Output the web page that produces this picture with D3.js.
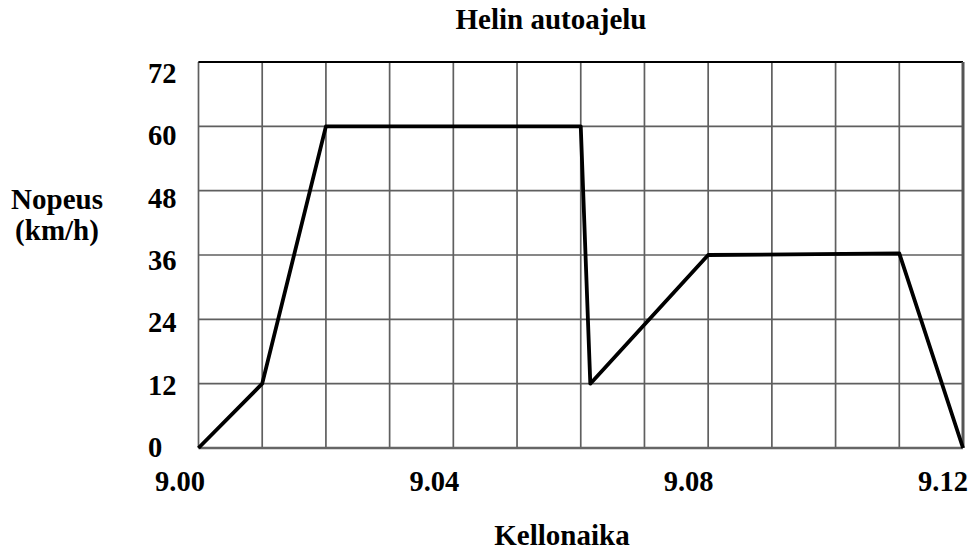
<!DOCTYPE html>
<html>
<head>
<meta charset="utf-8">
<script src="https://cdn.jsdelivr.net/npm/d3@7"></script>
<style>
  body { margin: 0; background: #fff; }
  text { font-family: "Liberation Serif", "Times New Roman", serif; font-weight: bold; fill: #000; }
</style>
</head>
<body>
<svg id="chart" width="973" height="551"></svg>
<script>
// minutes after 9.00 and speed (km/h)
const minutes = [0, 1, 2, 6, 6.15, 8, 11, 12]
const speed = [0, 12, 60, 60, 12, 36, 36.3, 0]

const yTicks = [0, 12, 24, 36, 48, 60, 72]
const xTicks = [0, 4, 8, 12]
const xTickLabels = ['9.00', '9.04', '9.08', '9.12']

const svg = d3.select('#chart')

const x = d3.scaleLinear().domain([0, 12]).range([198.5, 963])
const y = d3.scaleLinear().domain([0, 72]).range([448, 62])

// labels sit a bit off the grid in the original
const yLab = d3.scaleLinear().domain([0, 72]).range([457, 83])
const xLab = d3.scaleLinear().domain([0, 12]).range([180, 943])

const grid = svg.append('g')

grid.selectAll('.vgrid')
  .data(d3.range(0, 13))
  .enter().append('line')
  .attr('x1', d => x(d)).attr('x2', d => x(d))
  .attr('y1', y(0)).attr('y2', y(72))
  .attr('stroke', '#5f5f5f')
  .attr('stroke-width', 1.7)

grid.selectAll('.hgrid')
  .data(yTicks)
  .enter().append('line')
  .attr('x1', x(0)).attr('x2', x(12))
  .attr('y1', d => y(d)).attr('y2', d => y(d))
  .attr('stroke', '#5f5f5f')
  .attr('stroke-width', 1.7)

// frame
svg.append('line')
  .attr('x1', x(0)).attr('x2', x(12))
  .attr('y1', y(72)).attr('y2', y(72))
  .attr('stroke', '#000').attr('stroke-width', 2)
svg.append('line')
  .attr('x1', x(0)).attr('x2', x(12))
  .attr('y1', y(0)).attr('y2', y(0))
  .attr('stroke', '#666').attr('stroke-width', 2.5)
svg.append('line')
  .attr('x1', x(12)).attr('x2', x(12))
  .attr('y1', y(0)).attr('y2', y(72))
  .attr('stroke', '#555').attr('stroke-width', 3)

const pts = minutes.map((m, i) => [m, speed[i]])

const line = d3.line()
  .x(d => x(d[0]))
  .y(d => y(d[1]))

svg.append('path')
  .datum(pts)
  .attr('d', line)
  .attr('fill', 'none')
  .attr('stroke', '#000')
  .attr('stroke-width', 3.8)
  .attr('stroke-linejoin', 'round')

// y tick labels
svg.selectAll('.ylab')
  .data(yTicks)
  .enter().append('text')
  .attr('x', 148)
  .attr('y', d => yLab(d))
  .style('font-size', '28.5px')
  .text(d => d)

// x tick labels
svg.selectAll('.xlab')
  .data(xTicks)
  .enter().append('text')
  .attr('x', d => xLab(d))
  .attr('y', 491)
  .attr('text-anchor', 'middle')
  .style('font-size', '28.5px')
  .text((d, i) => xTickLabels[i])

svg.append('text')
  .attr('x', 551).attr('y', 29)
  .attr('text-anchor', 'middle')
  .style('font-size', '29px')
  .text('Helin autoajelu')

svg.append('text')
  .attr('x', 562).attr('y', 545)
  .attr('text-anchor', 'middle')
  .style('font-size', '29px')
  .text('Kellonaika')

svg.append('text')
  .attr('x', 57).attr('y', 209)
  .attr('text-anchor', 'middle')
  .style('font-size', '29px')
  .text('Nopeus')

svg.append('text')
  .attr('x', 57).attr('y', 240)
  .attr('text-anchor', 'middle')
  .style('font-size', '29px')
  .text('(km/h)')
</script>
</body>
</html>
